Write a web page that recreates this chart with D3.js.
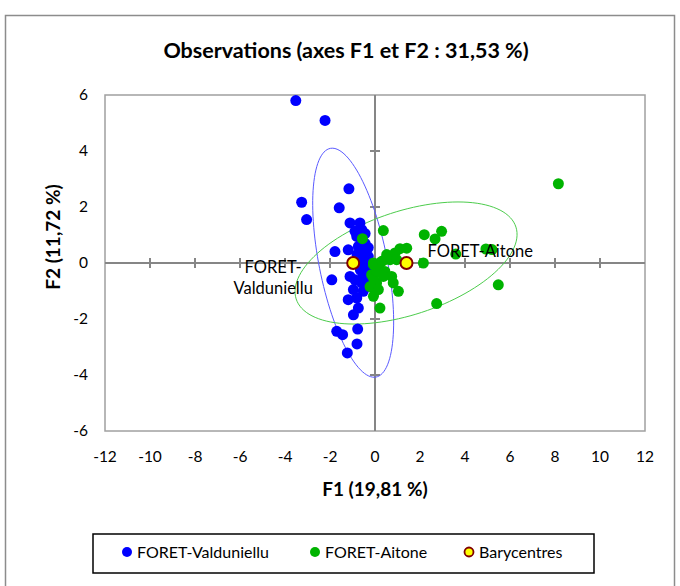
<!DOCTYPE html>
<html>
<head>
<meta charset="utf-8">
<script src="https://cdn.jsdelivr.net/npm/d3@7"></script>
<style>
  body { margin: 0; background: #fff; }
  svg text { font-family: Lato, "Open Sans", sans-serif; }
</style>
</head>
<body>
<div id="chart"></div>
<script>
// observations: [F1, F2]
var valduniellu = [
  [-3.52, 5.80], [-2.22, 5.09], [-1.16, 2.65], [-3.26, 2.17], [-3.04, 1.55],
  [-1.59, 1.97], [-1.11, 1.43], [-0.67, 1.43], [-0.59, 1.19], [-0.89, 1.13],
  [-0.44, 1.05], [-0.81, 0.95], [-1.78, 0.41], [-1.19, 0.47], [-0.74, 0.59],
  [-0.52, 0.41], [-0.30, 0.24], [-0.59, 0.18], [-0.44, 0.70], [-0.30, 0.55],
  [-0.80, 0.30], [-0.20, 0.00], [-0.40, 0.00], [-0.74, 0.05], [-0.52, -0.15],
  [-0.30, -0.10], [-1.92, -0.60], [-1.11, -0.48], [-0.89, -0.60], [-0.52, -0.42],
  [-0.59, -0.71], [-0.96, -0.95], [-0.52, -1.01], [-0.81, -1.25], [-1.19, -1.31],
  [-0.74, -1.61], [-0.96, -1.85], [-0.37, -0.77], [-0.37, -0.24], [-0.20, -0.60],
  [-1.70, -2.44], [-1.44, -2.56], [-0.77, -2.36], [-0.80, -2.89], [-1.23, -3.21],
  [-0.44, -0.30], [-0.65, -0.25]
];

var aitone = [
  [8.15, 2.83], [0.37, 1.16], [-0.56, 0.87], [2.19, 1.01], [2.96, 1.13],
  [2.67, 0.86], [3.59, 0.32], [4.93, 0.50], [5.20, 0.48], [5.48, -0.78],
  [2.74, -1.45], [2.15, 0.00], [1.41, 0.53], [1.11, 0.51], [0.89, 0.36],
  [0.52, 0.30], [0.44, 0.12], [0.67, 0.12], [0.22, 0.00], [-0.07, -0.06],
  [-0.15, -0.42], [0.15, -0.24], [0.44, -0.30], [0.74, -0.48], [0.81, -0.71],
  [1.04, -1.01], [0.07, -0.71], [0.00, -1.01], [-0.22, -0.84], [0.22, -1.61],
  [-0.07, -1.19], [-0.07, -0.54], [0.07, -0.30], [0.15, -0.95], [0.96, 0.12],
  [0.37, -0.48], [-0.07, 0.00], [0.30, 0.06]
];

var barycentres = [[-0.97, 0.00], [1.40, 0.00]];
var groupNames = ["FORET-Valduniellu", "FORET-Aitone"];

// confidence ellipses: center, two conjugate half-axes (data units)
var ellipseCenters = [[-0.97, 0.01], [1.38, 0.00]];
var ellipseAxisU = [[-0.93, 4.09], [2.31, 2.18]];
var ellipseAxisV = [[1.54, 0.00], [4.36, 0.00]];

var xTicks = d3.range(-12, 13, 2);
var yTicks = d3.range(-6, 7, 2);

var title = "Observations (axes F1 et F2 : 31,53 %)";
var xTitle = "F1 (19,81 %)";
var yTitle = "F2 (11,72 %)";
var legendNames = ["FORET-Valduniellu", "FORET-Aitone", "Barycentres"];

var colors = ["#0000ff", "#00b300"];
var ellipseColors = ["#5a5aff", "#4ccc4c"];

var outerWidth = 680, outerHeight = 586,
    plot = { left: 105, right: 645, top: 95, bottom: 431 };

var x = d3.scaleLinear().domain([-12, 12]).range([plot.left, plot.right]);
var y = d3.scaleLinear().domain([-6, 6]).range([plot.bottom, plot.top]);

var svg = d3.select("#chart").append("svg")
    .attr("width", outerWidth)
    .attr("height", outerHeight);

// chart area frame
svg.append("rect")
    .attr("x", 5.5).attr("y", 15.5)
    .attr("width", 669).attr("height", 590)
    .attr("fill", "none")
    .attr("stroke", "#8c8c8c")
    .attr("stroke-width", 1.5);

svg.append("text")
    .attr("x", 346).attr("y", 58)
    .attr("text-anchor", "middle")
    .attr("font-size", "21.5px")
    .attr("font-weight", "bold")
    .text(title);

// plot border
svg.append("rect")
    .attr("x", plot.left).attr("y", plot.top)
    .attr("width", plot.right - plot.left).attr("height", plot.bottom - plot.top)
    .attr("fill", "none")
    .attr("stroke", "#a0a0a0")
    .attr("stroke-width", 1.5);

// axes through origin, with crossing tick marks
var axes = svg.append("g").attr("stroke", "#868686").attr("stroke-width", 2);
axes.append("line")
    .attr("x1", x(-12)).attr("x2", x(12))
    .attr("y1", y(0)).attr("y2", y(0));
axes.append("line")
    .attr("x1", x(0)).attr("x2", x(0))
    .attr("y1", y(-6)).attr("y2", y(6));
axes.selectAll(".xt")
  .data(xTicks.filter(d => d != 0 && Math.abs(d) != 12))
  .join("line")
    .attr("x1", d => x(d)).attr("x2", d => x(d))
    .attr("y1", y(0) - 5).attr("y2", y(0) + 5);
axes.selectAll(".yt")
  .data(yTicks.filter(d => d != 0 && Math.abs(d) != 6))
  .join("line")
    .attr("x1", x(0) - 5).attr("x2", x(0) + 5)
    .attr("y1", d => y(d)).attr("y2", d => y(d));

// tick labels
svg.append("g")
    .attr("text-anchor", "middle")
    .attr("font-size", "15.5px")
  .selectAll("text")
  .data(xTicks)
  .join("text")
    .attr("x", d => x(d))
    .attr("y", plot.bottom + 31)
    .text(d => d);

svg.append("g")
    .attr("text-anchor", "end")
    .attr("font-size", "15.5px")
  .selectAll("text")
  .data(yTicks)
  .join("text")
    .attr("x", 88)
    .attr("y", d => y(d))
    .attr("dy", "0.35em")
    .text(d => d);

svg.append("text")
    .attr("x", x(0)).attr("y", 496)
    .attr("text-anchor", "middle")
    .attr("font-size", "19px")
    .attr("font-weight", "bold")
    .text(xTitle);

svg.append("text")
    .attr("transform", "translate(60,237) rotate(-90)")
    .attr("text-anchor", "middle")
    .attr("font-size", "19px")
    .attr("font-weight", "bold")
    .text(yTitle);

// ellipses
var line = d3.line().x(d => x(d[0])).y(d => y(d[1]));
var angles = d3.range(0, 361, 3).map(a => a * Math.PI / 180);
svg.append("g")
    .attr("fill", "none")
    .attr("stroke-width", 1)
  .selectAll("path")
  .data(ellipseCenters)
  .join("path")
    .attr("stroke", (d, i) => ellipseColors[i])
    .attr("d", (c, i) => line(angles.map(t => [
      c[0] + Math.cos(t) * ellipseAxisU[i][0] + Math.sin(t) * ellipseAxisV[i][0],
      c[1] + Math.cos(t) * ellipseAxisU[i][1] + Math.sin(t) * ellipseAxisV[i][1]
    ])));

// observations
[valduniellu, aitone].forEach(function(series, i) {
  svg.append("g")
      .attr("fill", colors[i])
    .selectAll("circle")
    .data(series)
    .join("circle")
      .attr("cx", d => x(d[0]))
      .attr("cy", d => y(d[1]))
      .attr("r", 5.5);
});

svg.append("g")
  .selectAll("circle")
  .data(barycentres)
  .join("circle")
    .attr("cx", d => x(d[0]))
    .attr("cy", d => y(d[1]))
    .attr("r", 6)
    .attr("fill", "#ffff00")
    .attr("stroke", "#800000")
    .attr("stroke-width", 2);

// barycentre labels
svg.append("text")
    .attr("x", x(barycentres[1][0]) + 21)
    .attr("y", y(barycentres[1][1]) - 6)
    .attr("font-size", "16.5px")
    .text(groupNames[1]);

var vLabel = svg.append("text")
    .attr("text-anchor", "middle")
    .attr("font-size", "16.5px");
vLabel.append("tspan")
    .attr("x", x(barycentres[0][0]) - 80).attr("y", y(barycentres[0][1]) + 10)
    .text("FORET-");
vLabel.append("tspan")
    .attr("x", x(barycentres[0][0]) - 80).attr("y", y(barycentres[0][1]) + 31)
    .text("Valduniellu");

// legend
var legend = svg.append("g");
legend.append("rect")
    .attr("x", 93).attr("y", 534)
    .attr("width", 501).attr("height", 39)
    .attr("fill", "#fff")
    .attr("stroke", "#000")
    .attr("stroke-width", 1.5);

var legendX = [127, 315, 469];
var item = legend.selectAll("g")
  .data(legendNames)
  .join("g")
    .attr("transform", (d, i) => `translate(${legendX[i]},552)`);
item.append("circle")
    .attr("r", (d, i) => i == 2 ? 4.5 : 5)
    .attr("fill", (d, i) => i == 2 ? "#ffff00" : colors[i])
    .attr("stroke", (d, i) => i == 2 ? "#800000" : "none")
    .attr("stroke-width", 1.8);
item.append("text")
    .attr("x", 10)
    .attr("dy", "0.35em")
    .attr("font-size", "16px")
    .text(d => d);
</script>
</body>
</html>
